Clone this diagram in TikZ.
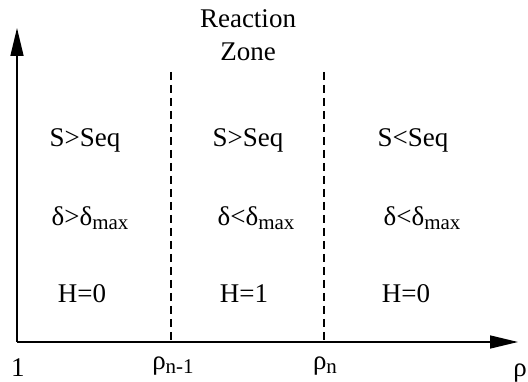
\documentclass[tikz,border=0pt]{standalone}
\usepackage{fontspec}
\setmainfont{Liberation Serif}
\usetikzlibrary{arrows.meta}

\newcommand{\lowidx}[1]{\raisebox{-0.3ex}{\fontsize{21}{24}\selectfont #1}}

\tikzset{
  lbl/.style={font=\fontsize{27}{30}\selectfont, inner sep=0pt, anchor=base},
  axis/.style={line width=1.6pt, -{Triangle[length=28pt,width=13pt]}},
  zone/.style={line width=1.4pt, dash pattern=on 8pt off 5pt}
}

\begin{document}
\begin{tikzpicture}[x=1pt, y=-1pt]
    \useasboundingbox (0,0) rectangle (528,382);
    % axes
    \coordinate (O) at (17,342);
    \coordinate (ytip) at (17,28);
    \coordinate (xtip) at (518,342);
    \draw[axis] (O) -- (ytip);
    \draw[axis] (O) -- (xtip);
    % zone borders
    \coordinate (b1top) at (171,72);
    \coordinate (b1bot) at (171,342);
    \coordinate (b2top) at (324,72);
    \coordinate (b2bot) at (324,342);
    \draw[zone] (b1top) -- (b1bot);
    \draw[zone] (b2top) -- (b2bot);
    % title
    \node[lbl] (react) at (248,28) {Reaction};
    \node[lbl] (zone) at (248,61) {Zone};
    % left region
    \node[lbl] (sL) at (85,147) {S>Seq};
    \node[lbl] (dL) at (90,226) {δ>δ\lowidx{max}};
    \node[lbl] (hL) at (82,303) {H=0};
    % middle region
    \node[lbl] (sM) at (248,147) {S>Seq};
    \node[lbl] (dM) at (256,226) {δ<δ\lowidx{max}};
    \node[lbl] (hM) at (244,303) {H=1};
    % right region
    \node[lbl] (sR) at (413,147) {S<Seq};
    \node[lbl] (dR) at (422,226) {δ<δ\lowidx{max}};
    \node[lbl] (hR) at (406,303) {H=0};
    % axis ticks labels
    \node[lbl] (one) at (18,377) {1};
    \node[lbl] (rn1) at (173,370) {ρ\lowidx{n-1}};
    \node[lbl] (rn) at (325,370) {ρ\lowidx{n}};
    \node[lbl] (rho) at (520,377) {ρ};
\end{tikzpicture}
\end{document}
